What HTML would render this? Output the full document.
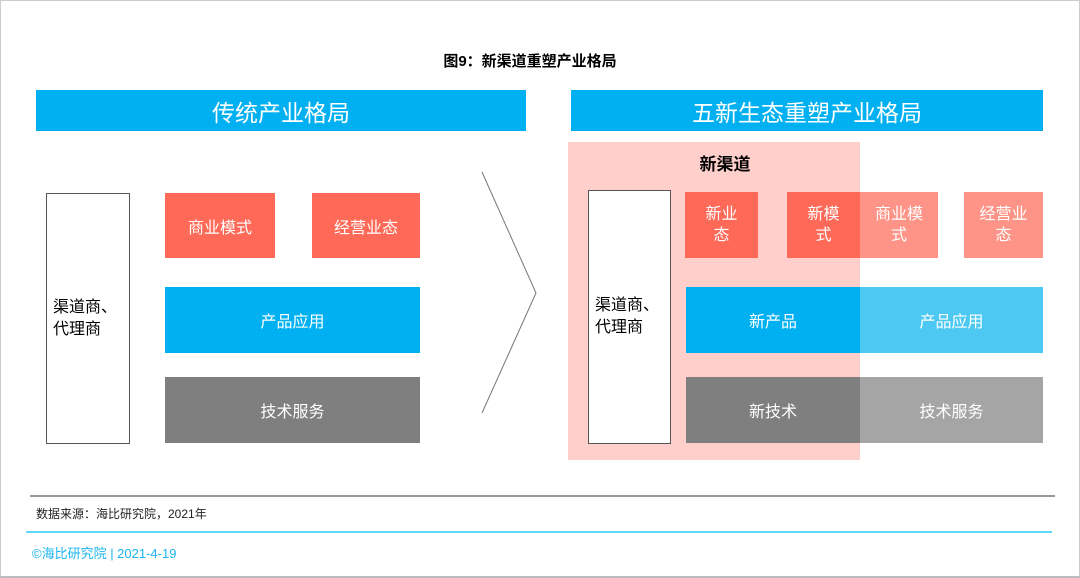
<!DOCTYPE html>
<html><head><meta charset="utf-8"><style>
*{margin:0;padding:0;box-sizing:border-box}
body{width:1080px;height:578px;background:#fff;position:relative;overflow:hidden;font-family:"Liberation Sans","Noto Sans CJK SC",sans-serif}
.a{position:absolute;display:flex;align-items:center;justify-content:center;text-align:center;color:#fff}
</style></head><body>
<div style="position:absolute;left:0;top:0;width:1080px;height:578px;border:1px solid #ccc;border-bottom:2px solid #bbb"></div>
<div class="a" style="left:380px;top:49px;width:300px;height:22px;color:#000;font-weight:bold;font-size:15px">图9：新渠道重塑产业格局</div>
<div class="a" style="left:36px;top:90px;width:490px;height:41px;background:#00b0f0;font-size:23px">传统产业格局</div>
<div class="a" style="left:571px;top:90px;width:472px;height:41px;background:#00b0f0;font-size:23px">五新生态重塑产业格局</div>
<div class="a" style="left:46px;top:193px;width:84px;height:251px;border:1px solid #555;color:#000;font-size:16px;line-height:22px;justify-content:flex-start;text-align:left;padding-left:6px">渠道商、<br>代理商</div>
<div class="a" style="left:165px;top:193px;width:110px;height:65px;background:#ff6957;font-size:16px">商业模式</div>
<div class="a" style="left:312px;top:193px;width:108px;height:65px;background:#ff6957;font-size:16px">经营业态</div>
<div class="a" style="left:165px;top:287px;width:255px;height:66px;background:#00b0f0;font-size:16px">产品应用</div>
<div class="a" style="left:165px;top:377px;width:255px;height:66px;background:#7f7f7f;font-size:16px">技术服务</div>
<svg style="position:absolute;left:0;top:0" width="1080" height="578"><polyline points="482,172 536,293 482,413" fill="none" stroke="#777" stroke-width="1"/></svg>
<div style="position:absolute;left:568px;top:142px;width:292px;height:318px;background:#ffcfcb"></div>
<div class="a" style="left:680px;top:150px;width:90px;height:24px;color:#000;font-weight:bold;font-size:17px">新渠道</div>
<div class="a" style="left:588px;top:190px;width:83px;height:254px;background:#fff;border:1px solid #555;color:#000;font-size:16px;line-height:22px;justify-content:flex-start;text-align:left;padding-left:6px">渠道商、<br>代理商</div>
<div class="a" style="left:685px;top:192px;width:73px;height:66px;background:#ff6957;font-size:16px;line-height:21px">新业<br>态</div>
<div class="a" style="left:787px;top:192px;width:73px;height:66px;background:#ff6957;font-size:16px;line-height:21px">新模<br>式</div>
<div class="a" style="left:860px;top:192px;width:78px;height:66px;background:#fd9487;font-size:16px;line-height:21px">商业模<br>式</div>
<div class="a" style="left:964px;top:192px;width:79px;height:66px;background:#fd9487;font-size:16px;line-height:21px">经营业<br>态</div>
<div class="a" style="left:686px;top:287px;width:174px;height:66px;background:#00b0f0;font-size:16px">新产品</div>
<div class="a" style="left:860px;top:287px;width:183px;height:66px;background:#4dc8f2;font-size:16px">产品应用</div>
<div class="a" style="left:686px;top:377px;width:174px;height:66px;background:#7f7f7f;font-size:16px">新技术</div>
<div class="a" style="left:860px;top:377px;width:183px;height:66px;background:#a5a5a5;font-size:16px">技术服务</div>
<div style="position:absolute;left:30px;top:495px;width:1025px;height:2px;background:#999"></div>
<div style="position:absolute;left:36px;top:505px;font-size:12px;color:#222">数据来源：海比研究院，2021年</div>
<div style="position:absolute;left:26px;top:531px;width:1026px;height:2px;background:#5ed8f8"></div>
<div style="position:absolute;left:32px;top:543px;font-size:13px;color:#1ab4f0">©海比研究院 | 2021-4-19</div>
</body></html>
